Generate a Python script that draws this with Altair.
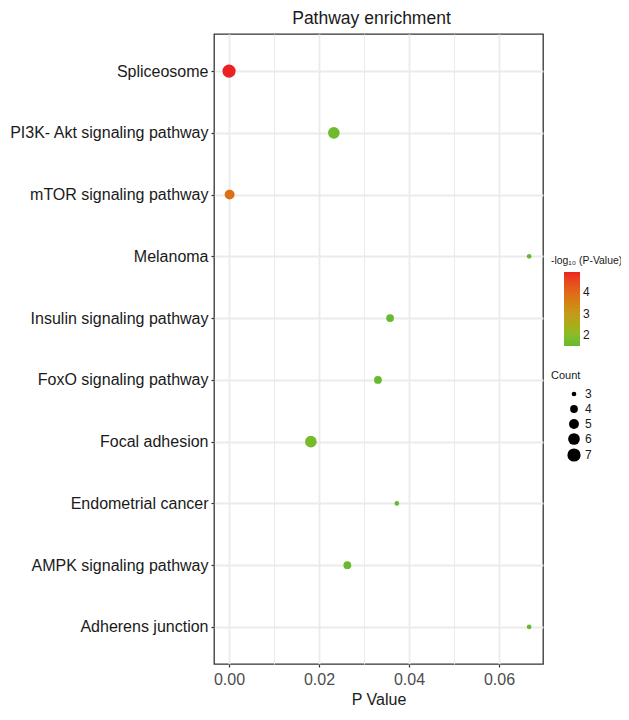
import altair as alt
import pandas as pd

pathways = [
    "Spliceosome",
    "PI3K- Akt signaling pathway",
    "mTOR signaling pathway",
    "Melanoma",
    "Insulin signaling pathway",
    "FoxO signaling pathway",
    "Focal adhesion",
    "Endometrial cancer",
    "AMPK signaling pathway",
    "Adherens junction",
]
p_values = [0.000012, 0.0233, 0.00014, 0.0667, 0.0358, 0.0331, 0.0182, 0.0373, 0.0263, 0.0667]
counts = [7, 6, 5, 3, 4, 4, 6, 3, 4, 3]

x_ticks = [0, 0.01, 0.02, 0.03, 0.04, 0.05, 0.06]
color_stops = [1.51, 2, 3, 4, 4.92]
color_range = ["#66ba2f", "#86bd2b", "#c49a1f", "#e2661b", "#ec2121"]
count_values = [3, 4, 5, 6, 7]

df = pd.DataFrame({"pathway": pathways, "p": p_values, "count": counts})

FONT = "Liberation Sans"
ODD = "round(datum.value*100) % 2 == 1"

points = (
    alt.Chart(df)
    .transform_calculate(neglog="-log(datum.p)/LN10")
    .mark_circle(opacity=1)
    .encode(
        x=alt.X(
            "p:Q",
            title="P Value",
            scale=alt.Scale(domain=[-0.00333, 0.06978], nice=False, zero=False),
            axis=alt.Axis(
                values=x_ticks,
                format=".2f",
                labelExpr=f"{ODD} ? '' : datum.label",
                tickOpacity={"condition": {"test": ODD, "value": 0}, "value": 1},
                gridWidth={"condition": {"test": ODD, "value": 1}, "value": 1.8},
            ),
        ),
        y=alt.Y(
            "pathway:N",
            sort=pathways,
            title=None,
            scale=alt.Scale(type="point", padding=0.6),
            axis=alt.Axis(labelLimit=0),
        ),
        color=alt.Color(
            "neglog:Q",
            title=None,
            scale=alt.Scale(domain=color_stops, range=color_range, clamp=True),
            legend=alt.Legend(
                orient="none",
                legendX=350,
                legendY=238,
                direction="vertical",
                gradientLength=74,
                gradientThickness=16,
                values=[2, 3, 4],
                labelFontSize=12,
                labelFont=FONT,
                labelColor="#1a1a1a",
                labelOffset=3,
                gradientStrokeWidth=0,
            ),
        ),
        size=alt.Size(
            "count:Q",
            title="Count",
            scale=alt.Scale(domain=[3, 7], range=[22, 175]),
            legend=alt.Legend(
                orient="none",
                legendX=337,
                legendY=336,
                values=count_values,
                symbolFillColor="black",
                symbolStrokeWidth=0,
                symbolOpacity=1,
                labelFontSize=12,
                titleFontSize=11,
                titleFontWeight="normal",
                titleFont=FONT,
                labelFont=FONT,
                titleColor="#1a1a1a",
                labelColor="#1a1a1a",
                rowPadding=3,
                titlePadding=7,
                symbolOffset=16,
                labelOffset=4,
            ),
        ),
    )
)

legend_title = (
    alt.Chart(df)
    .transform_filter("datum.pathway == 'Spliceosome'")
    .mark_text(align="left", baseline="middle", font=FONT, fontSize=10.4, color="#1a1a1a")
    .encode(x=alt.value(337), y=alt.value(227), text=alt.value("-log₁₀ (P-Value)"))
)

chart = (
    alt.layer(points, legend_title)
    .properties(
        width=329,
        height=630,
        title=alt.Title(
            "Pathway enrichment",
            fontSize=17.5,
            font=FONT,
            fontWeight="normal",
            color="#1a1a1a",
            anchor="middle",
            offset=7,
            dx=-7,
        ),
        autosize=alt.AutoSizeParams(type="none"),
        padding={"left": 206, "top": 26, "right": 78, "bottom": 42},
    )
    .configure_view(stroke="#333333", strokeWidth=1.3)
    .configure_axis(
        domain=False,
        grid=True,
        gridColor="#ebebeb",
        gridWidth=1.8,
        tickColor="#333333",
        tickSize=3,
        tickWidth=1.2,
        labelFont=FONT,
        titleFont=FONT,
        labelFontSize=16,
        labelColor="#1a1a1a",
        titleFontSize=16,
        titleFontWeight="normal",
        titleColor="#1a1a1a",
        labelPadding=3,
    )
    .configure_axisX(labelColor="#4d4d4d", labelPadding=4, titlePadding=4)
)

chart.save("out.html", embed_options={"renderer": "svg", "actions": False})
